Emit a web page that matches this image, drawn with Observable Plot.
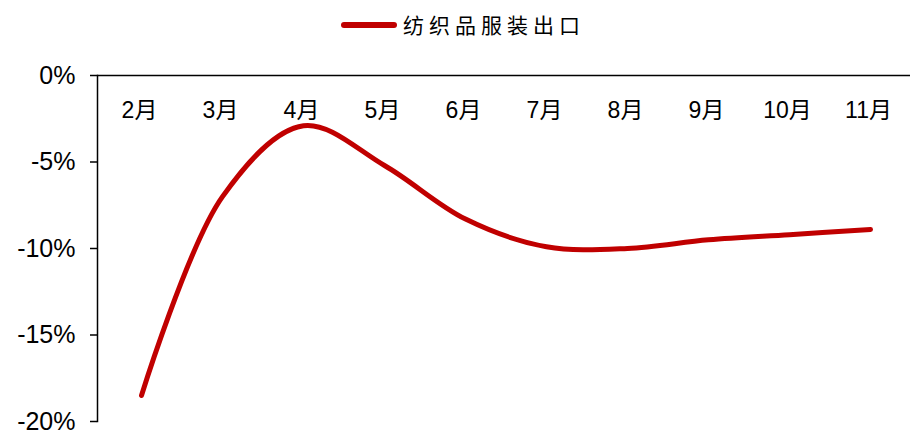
<!DOCTYPE html>
<html>
<head>
<meta charset="utf-8">
<script src="https://cdn.jsdelivr.net/npm/d3@7"></script>
<script src="https://cdn.jsdelivr.net/npm/@observablehq/plot@0.6"></script>
<style>
  html, body { margin: 0; padding: 0; background: #fff; overflow: hidden; }
  #wrap { position: relative; width: 910px; height: 435px; overflow: hidden; }
  #legend { position: relative; height: 50px; width: 910px; }
  #legend .sw { position: absolute; left: 341px; top: 22px; width: 56px; height: 6px; background: #C00000; border-radius: 3px; }
  #legend .lb { position: absolute; left: 403px; top: 9px; font-family: "Noto Sans CJK SC", sans-serif; font-size: 21px; letter-spacing: 5px; color: #000; line-height: 30px; }
</style>
</head>
<body>
<div id="wrap">
  <div id="legend"><div class="sw"></div><div class="lb">纺织品服装出口</div></div>
  <div id="chart"></div>
</div>
<script>
const seriesName = "纺织品服装出口";
const months = ["2月","3月","4月","5月","6月","7月","8月","9月","10月","11月"];
const values = [-18.5, -7.0, -2.9, -5.2, -8.3, -9.9, -10.0, -9.5, -9.2, -8.9];
const yTicks = [0, -5, -10, -15, -20];

const data = months.map((m, i) => ({month: m, value: values[i]}));

const chart = Plot.plot({
  width: 910,
  height: 385,
  marginLeft: 97,
  marginRight: -3,
  marginTop: 25,
  marginBottom: 14,
  style: {fontFamily: "'Liberation Sans', 'Noto Sans CJK SC', sans-serif", fontSize: "25px", color: "#000", background: "#fff"},
  x: {type: "point", domain: months, padding: 0.5, axis: null},
  y: {domain: [-20, 0], ticks: yTicks, tickFormat: d => d + "%"},
  marks: [
    Plot.axisY({ticks: yTicks, tickFormat: d => d + "%", tickSize: 7, tickPadding: 15, stroke: "#000", strokeWidth: 1.5, fontSize: 25, label: null}),
    Plot.frame({anchor: "left", stroke: "#000", strokeWidth: 1.5}),
    Plot.ruleY([0], {stroke: "#000", strokeWidth: 1.5}),
    Plot.text(months, {x: d => d, frameAnchor: "top", lineAnchor: "middle", dx: -2, dy: 35, fontSize: 23, fill: "#000"}),
    Plot.line(data, {x: "month", y: "value", curve: "catmull-rom", stroke: "#C00000", strokeWidth: 5, strokeLinecap: "round", strokeLinejoin: "round"})
  ]
});
chart.style.overflow = "visible";
document.getElementById("chart").appendChild(chart);
</script>
</body>
</html>
